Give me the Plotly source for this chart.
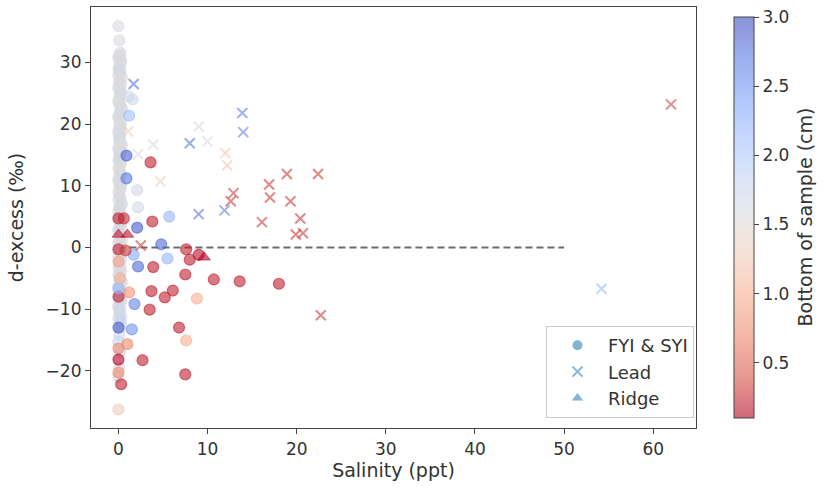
import plotly.graph_objects as go

# ---------------- data ----------------
# FYI & SYI (circles): salinity (ppt), d-excess (permil), bottom of sample (cm)
col_salinity = [0.0, 0.1, 0.2, 0.0, 0.3, 0.1, 0.0, 0.2, 0.4, 0.1, 0.0, 0.3, 0.2, 0.0, 0.1, 0.4,
                0.2, 0.0, 0.3, 0.1, 0.0, 0.2, 0.1, 0.4, 0.0, 0.2, 0.1, 0.3, 0.0, 0.2, 0.1, 0.0,
                0.3, 0.2, 0.1, 0.0, 0.4, 0.1, 0.2, 0.0, 0.3, 0.1, 0.0, 0.2, 0.4, 0.1, 0.0, 0.2,
                0.3, 0.1, 0.0, 0.2, 0.1, 0.4, 0.0, 0.2, 0.1, 0.3, 0.0, 0.2, 0.1, 0.0, 0.3, 0.2,
                0.1, 0.0, 0.2, 0.1, 0.0]
col_dexcess = [35.9, 33.6, 31.6, 30.9, 30.3, 29.6, 28.9, 28.3, 27.6, 26.8, 26.1, 25.4, 24.7, 23.9,
               23.2, 22.5, 21.8, 21.0, 20.3, 19.6, 18.9, 18.1, 17.4, 16.6, 15.9, 15.2, 14.4, 13.7,
               12.9, 12.2, 11.5, 10.7, 10.0, 9.3, 8.5, 7.8, 7.0, 6.3, 5.6, 4.8, 4.1, 3.3, 2.6, 1.9,
               1.1, 0.4, -0.4, -1.1, -1.9, -2.6, -3.4, -4.1, -4.9, -5.6, -6.4, -7.1, -7.9, -8.6,
               -9.4, -10.1, -10.9, -11.6, -12.4, -13.1, -14.2, -15.3, -17.0, -19.5, -21.0]
col_bottom = [1.6, 1.6, 1.6, 1.65, 1.6, 1.55, 1.6, 1.65, 1.6, 1.6, 1.55, 1.6, 1.65, 1.6, 1.6,
              1.6, 1.55, 1.6, 1.65, 1.6, 1.6, 1.6, 1.55, 1.6, 1.65, 1.6, 1.6, 1.6, 1.55, 1.6,
              1.65, 1.6, 1.6, 1.6, 1.55, 1.6, 1.65, 1.6, 1.6, 1.6, 1.55, 1.6, 1.65, 1.6, 1.6,
              1.6, 1.55, 1.6, 1.65, 1.6, 1.6, 1.6, 1.55, 1.6, 1.7, 1.6, 1.65, 1.7, 1.6, 1.7,
              1.6, 1.65, 1.7, 1.6, 1.7, 1.75, 1.7, 1.6, 1.65]

col2_salinity = [0.2, 0.0, 0.3, 0.1, 0.2, 0.0, 0.1, 0.3, 0.0, 0.2, 0.1, 0.0, 0.3, 0.2, 0.0,
                 0.1, 0.2, 0.3, 0.0, 0.1, 0.2, 0.0, 0.3, 0.1, 0.0, 0.2, 0.1, 0.3, 0.0, 0.2,
                 0.1, 0.0, 0.2, 0.3, 0.1, 0.0, 0.2, 0.1, 0.3, 0.0, 0.2, 0.1, 0.0, 0.3, 0.2,
                 0.0, 0.1, 0.2, 0.3, 0.0, 0.1, 0.2, 0.0, 0.3, 0.1, 0.2, 0.0, 0.1, 0.3, 0.2]
col2_dexcess = [31.2, 30.6, 29.9, 29.2, 28.6, 27.9, 27.2, 26.5, 25.7, 25.0, 24.3, 23.5, 22.8,
                22.1, 21.4, 20.6, 19.9, 19.2, 18.5, 17.7, 17.0, 16.2, 15.5, 14.8, 14.0, 13.3,
                12.5, 11.8, 11.1, 10.3, 9.6, 8.9, 8.1, 7.4, 6.6, 5.9, 5.2, 4.4, 3.7, 2.9, 2.2,
                1.5, 0.7, 0.0, -0.8, -1.5, -2.3, -3.0, -3.8, -4.5, -5.3, -6.0, -6.8, -7.5,
                -8.3, -9.0, -9.8, -10.5, -11.3, -12.0]
col2_bottom = [1.6, 1.55, 1.6, 1.6, 1.65, 1.6, 1.55, 1.6, 1.6, 1.65, 1.6, 1.55, 1.6, 1.6,
               1.65, 1.6, 1.55, 1.6, 1.6, 1.65, 1.6, 1.55, 1.6, 1.6, 1.65, 1.6, 1.55, 1.6,
               1.6, 1.65, 1.6, 1.55, 1.6, 1.6, 1.65, 1.6, 1.55, 1.6, 1.6, 1.65, 1.6, 1.55,
               1.6, 1.6, 1.65, 1.6, 1.55, 1.6, 1.6, 1.65, 1.7, 1.6, 1.7, 1.65, 1.7, 1.6,
               1.7, 1.65, 1.7, 1.75]

fyi_salinity = [3.6, 3.8, 2.1, 5.7, 0.9, 0.9, 1.2, 1.1, 1.6, 2.1, 2.2, 0.6, 0.0, 4.8, 7.6,
                8.0, 9.0, 1.7, 2.2, 3.9, 5.5, 7.5, 10.7, 13.6, 18.0, 3.7, 6.1, 5.2, 8.8, 1.2,
                1.8, 3.5, 0.0, 0.0, 0.0, 1.5, 6.8, 7.6, 1.0, 0.0, 0.0, 2.7, 0.0, 0.3, 7.5,
                0.0, 0.0, 0.8, 0.2, 0.0]
fyi_dexcess = [13.8, 4.2, 3.2, 5.0, 14.9, 11.2, 21.4, 24.5, 24.0, 9.3, 6.5, 4.7, 4.7, 0.5, -0.3,
               -2.0, -1.2, -1.2, -3.1, -3.2, -1.8, -4.4, -5.2, -5.5, -5.9, -7.1, -7.0, -8.1, -8.3,
               -7.3, -9.2, -10.1, -8.0, -6.6, -13.0, -13.3, -13.0, -15.1, -15.7, -16.4, -18.2,
               -18.3, -20.3, -22.2, -20.6, -26.3, -0.3, -0.5, -5.0, -2.3]
fyi_bottom = [0.2, 0.2, 2.9, 2.2, 2.85, 2.7, 2.1, 1.65, 1.7, 1.65, 1.65, 0.25, 0.2, 2.8, 0.2,
              0.2, 0.15, 2.3, 2.8, 0.2, 2.2, 0.2, 0.2, 0.2, 0.2, 0.2, 0.2, 0.2, 1.0, 0.8,
              2.6, 0.2, 0.2, 2.2, 2.9, 2.5, 0.2, 1.0, 0.7, 0.7, 0.1, 0.2, 0.7, 0.2, 0.2,
              1.3, 0.2, 0.3, 1.0, 0.9]

# Lead (crosses)
lead_salinity = [1.7, 3.9, 4.7, 8.0, 9.0, 10.0, 13.9, 14.0, 12.0, 12.2, 9.0, 11.9, 12.9, 12.6,
                 16.9, 17.0, 18.9, 22.4, 19.3, 16.1, 20.4, 19.9, 20.7, 22.7, 62.0, 54.2, 2.5,
                 1.1, 2.2]
lead_dexcess = [26.5, 16.7, 10.7, 16.9, 19.6, 17.2, 21.8, 18.7, 15.3, 13.3, 5.4, 6.0, 8.8, 7.5,
                10.2, 8.1, 11.9, 11.9, 7.5, 4.1, 4.7, 2.1, 2.3, -11.0, 23.2, -6.7, 0.3,
                18.8, 15.1]
lead_bottom = [2.75, 1.6, 1.35, 2.75, 1.6, 1.6, 2.65, 2.65, 1.2, 1.2, 2.75, 2.65, 0.3, 0.3,
               0.3, 0.3, 0.3, 0.3, 0.3, 0.3, 0.3, 0.3, 0.3, 0.3, 0.3, 2.2, 0.3,
               1.3, 1.6]

# Ridge (triangles)
ridge_salinity = [0.0, 1.0, 9.6]
ridge_dexcess = [2.1, 2.1, -1.6]
ridge_bottom = [0.15, 0.15, 0.1]

zero_line_x = [0, 50]
zero_line_y = [0, 0]

cmin, cmax = 0.1, 3.0
colorbar_ticks = [0.5, 1.0, 1.5, 2.0, 2.5, 3.0]

# ---------------- style ----------------
alpha = 0.6
coolwarm_r = ["#b40426", "#d65244", "#ee8468", "#f7ac8e", "#f2cbb7", "#dddcdc",
              "#c0d4f5", "#9ebeff", "#7b9ff9", "#5977e3", "#3b4cc0"]


def rgba(h, a):
    h = h.lstrip("#")
    return "rgba(%d,%d,%d,%.2f)" % (int(h[0:2], 16), int(h[2:4], 16), int(h[4:6], 16), a)


colorscale = [[i / (len(coolwarm_r) - 1), rgba(c, alpha)] for i, c in enumerate(coolwarm_r)]

FONT = "DejaVu Sans"
TXT = "#333333"
AX = "#444444"
TICK = 17
LABEL = 19

W, H = 826, 496
ML, MR, MT, MB = 91, 130, 7, 68
plot_w = W - ML - MR
plot_h = H - MT - MB

fig = go.Figure()

fig.add_trace(go.Scatter(
    x=zero_line_x, y=zero_line_y, mode="lines",
    line=dict(color="rgba(100,100,100,0.95)", width=2, dash="7px,4px"),
    showlegend=False, hoverinfo="skip"))

fyi_x = col_salinity + col2_salinity + fyi_salinity
fyi_y = col_dexcess + col2_dexcess + fyi_dexcess
fyi_c = col_bottom + col2_bottom + fyi_bottom

fig.add_trace(go.Scatter(
    x=fyi_x, y=fyi_y, mode="markers", showlegend=False,
    marker=dict(symbol="circle", size=11, color=fyi_c, coloraxis="coloraxis",
                line=dict(width=1.2, color=fyi_c, coloraxis="coloraxis"))))

fig.add_trace(go.Scatter(
    x=lead_salinity, y=lead_dexcess, mode="markers", showlegend=False,
    marker=dict(symbol="x-thin", size=10, color=lead_bottom, coloraxis="coloraxis",
                line=dict(width=2, color=lead_bottom, coloraxis="coloraxis"))))

fig.add_trace(go.Scatter(
    x=ridge_salinity, y=ridge_dexcess, mode="markers", showlegend=False,
    marker=dict(symbol="triangle-up", size=11, color=ridge_bottom, coloraxis="coloraxis",
                line=dict(width=1, color=ridge_bottom, coloraxis="coloraxis"))))

# legend-only entries
leg_col = "rgba(31,119,180,0.55)"
for name, sym, lw in [("FYI & SYI", "circle", 0), ("Lead", "x-thin", 2), ("Ridge", "triangle-up", 0)]:
    fig.add_trace(go.Scatter(
        x=[None], y=[None], mode="markers", name=name, legendgroup=name,
        marker=dict(symbol=sym, size=10, color=leg_col, line=dict(width=lw, color=leg_col))))

fig.update_layout(
    width=W, height=H,
    margin=dict(l=ML, r=MR, t=MT, b=MB),
    paper_bgcolor="white", plot_bgcolor="white",
    font=dict(family=FONT, size=TICK, color=TXT),
    coloraxis=dict(
        colorscale=colorscale, cmin=cmin, cmax=cmax,
        colorbar=dict(
            x=(734 - ML) / plot_w, xanchor="left", xpad=0, y=0.5, yanchor="middle",
            len=1.0, lenmode="fraction",
            thickness=20, outlinewidth=1, outlinecolor=AX,
            tickvals=colorbar_ticks, tickformat=".1f", ticks="outside", ticklen=5,
            tickcolor=AX, tickfont=dict(family=FONT, size=TICK, color=TXT))),
    annotations=[dict(text="Bottom of sample (cm)", textangle=-90,
                      x=(817 - ML) / plot_w, y=(MT + plot_h - 217.5) / plot_h,
                      xref="paper", yref="paper", showarrow=False,
                      font=dict(family=FONT, size=LABEL, color=TXT))],
    xaxis=dict(range=[-3.08, 64.8], showgrid=False, zeroline=False,
               showline=True, linecolor=AX, linewidth=1.2, mirror=True,
               ticks="outside", ticklen=5, tickcolor=AX, tickvals=[0, 10, 20, 30, 40, 50, 60],
               tickfont=dict(size=TICK),
               title=dict(text="Salinity (ppt)", standoff=6, font=dict(size=LABEL))),
    yaxis=dict(range=[-29.3, 39.0], showgrid=False, zeroline=False,
               showline=True, linecolor=AX, linewidth=1.2, mirror=True,
               ticks="outside", ticklen=5, tickcolor=AX, tickvals=[-20, -10, 0, 10, 20, 30],
               tickfont=dict(size=TICK),
               title=dict(text="d-excess (‰)", standoff=16, font=dict(size=LABEL))),
    legend=dict(x=(694 - ML) / plot_w, xanchor="right", y=(428 - 418) / plot_h, yanchor="bottom",
                bgcolor="rgba(255,255,255,0.85)", bordercolor="#cccccc", borderwidth=1,
                font=dict(family=FONT, size=18, color=TXT), tracegroupgap=0,
                itemwidth=51),
)

fig.write_html("out.html")
